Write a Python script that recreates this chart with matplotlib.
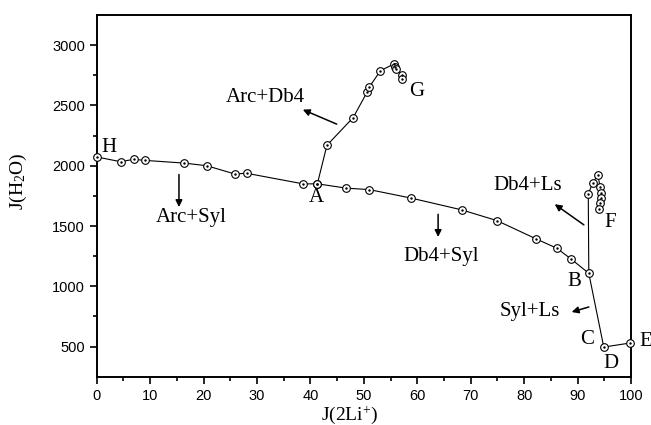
import matplotlib
matplotlib.use("Agg")
import matplotlib.pyplot as plt

# main curve H -> A -> B
main_x = [0, 4.5, 6.9, 9.1, 16.3, 20.6, 25.8, 28.1, 38.7, 41.3, 46.7, 51.0, 58.8, 68.3, 74.9, 82.2, 86.1, 88.7, 92.1]
main_y = [2073, 2033, 2053, 2044, 2022, 2000, 1932, 1937, 1849, 1850, 1814, 1802, 1732, 1634, 1545, 1394, 1316, 1229, 1108]

# branch A -> G
ag_x = [41.3, 43.1, 48.0, 50.6, 51.0, 53.1, 55.6, 55.8, 56.1, 57.1, 57.2]
ag_y = [1850, 2170, 2399, 2610, 2651, 2788, 2843, 2815, 2802, 2753, 2720]

# branch B -> F
bf_x = [92.1, 92.0, 92.8, 93.8, 94.2, 94.3, 94.3, 94.2, 94.1]
bf_y = [1108, 1764, 1855, 1923, 1826, 1777, 1736, 1694, 1640]

# B -> D -> E
bde_x = [92.1, 94.9, 99.9]
bde_y = [1108, 496, 530]

serif = "Liberation Serif"
sans = "Liberation Sans"
plt.rcParams["mathtext.fontset"] = "custom"
plt.rcParams["mathtext.rm"] = serif
plt.rcParams["mathtext.it"] = serif

fig = plt.figure(figsize=(6.51, 4.25), dpi=100)
ax = fig.add_axes([0.1485, 0.1136, 0.8208, 0.8511])

def marks(xs, ys):
    ax.plot(xs, ys, "o", ms=5.5, mfc="white", mec="black", mew=0.8, zorder=3, clip_on=False)
    ax.plot(xs, ys, ".", ms=1.5, color="black", zorder=4, clip_on=False)

ax.plot(main_x, main_y, color="black", lw=0.8, zorder=2)
ax.plot(ag_x, ag_y, color="black", lw=0.8, zorder=2)
ax.plot(bf_x, bf_y, color="black", lw=0.8, zorder=2)
ax.plot(bde_x, bde_y, color="black", lw=0.8, zorder=2)
marks(main_x, main_y)
marks(ag_x, ag_y)
marks(bf_x[1:], bf_y[1:])
marks(bde_x[1:], bde_y[1:])

ax.set_xlim(0, 100)
ax.set_ylim(250, 3250)
ax.set_xticks(range(0, 101, 10))
ax.set_xticks(range(5, 100, 10), minor=True)
ax.set_yticks([500, 1000, 1500, 2000, 2500, 3000])
ax.set_yticks([750, 1250, 1750, 2250, 2750], minor=True)
ax.tick_params(direction="out", width=1.2, length=5, labelsize=10.5)
ax.tick_params(which="minor", direction="out", width=1.2, length=3)
for lab in ax.get_xticklabels() + ax.get_yticklabels():
    lab.set_fontfamily(sans)
for sp in ax.spines.values():
    sp.set_linewidth(1.4)

ax.set_xlabel("J(2Li$^{+}$)", fontfamily=serif, fontsize=14)
ax.set_ylabel("J(H$_2$O)", fontfamily=serif, fontsize=14)
ax.xaxis.set_label_coords(0.4735, -0.077)
ax.yaxis.set_label_coords(-0.126, 0.54)

pts = {"H": (2.3, 2155), "A": (41.1, 1739), "G": (59.9, 2612), "F": (96.1, 1529),
       "B": (89.4, 1041), "C": (91.8, 555), "D": (96.2, 357)}
for k, (x, y) in pts.items():
    ax.text(x, y, k, fontfamily=serif, fontsize=15, ha="center", va="center")
ax.text(102.8, 542, "E", fontfamily=serif, fontsize=15, ha="center", va="center", clip_on=False)

labels = [("Arc+Db4", 31.5, 2568), ("Arc+Syl", 17.7, 1568), ("Db4+Syl", 64.4, 1245),
          ("Db4+Ls", 80.7, 1840), ("Syl+Ls", 81.1, 793)]
for t, x, y in labels:
    ax.text(x, y, t, fontfamily=serif, fontsize=15, ha="center", va="center")

arrows = [((45.4, 2336), (38.1, 2474)), ((15.4, 1950), (15.4, 1634)),
          ((63.9, 1620), (63.9, 1386)), ((91.6, 1496), (85.3, 1694)),
          ((92.6, 835), (88.4, 780))]
for (x0, y0), (x1, y1) in arrows:
    ax.annotate("", xy=(x1, y1), xytext=(x0, y0),
                arrowprops=dict(arrowstyle="-|>", color="black", lw=1.1, mutation_scale=10))

fig.savefig("out.png", dpi=100)
